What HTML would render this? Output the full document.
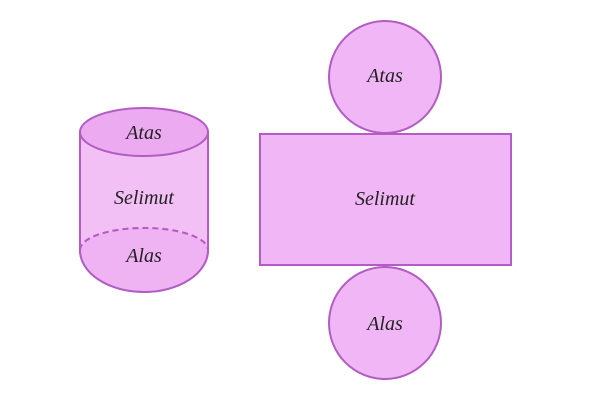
<!DOCTYPE html>
<html><head><style>body{margin:0;background:#fff}svg{display:block}</style></head><body>
<svg width="600" height="400" viewBox="0 0 600 400" xmlns="http://www.w3.org/2000/svg" font-family="Liberation Serif, serif" font-style="italic" font-size="20" fill="#222">
<g stroke="#b35cc4" stroke-width="2">
<path d="M80 132 L80 250 A64 42 0 0 0 208 250 L208 132 Z" fill="#f3c0f6"/>
<ellipse cx="144" cy="132" rx="64" ry="24" fill="#ecaaf0"/>
<path d="M80 250 A64 22 0 0 1 208 250" fill="none" stroke-dasharray="6 4"/>
<path d="M80 250 A64 22 0 0 1 208 250 A64 42 0 0 1 80 250Z" fill="#efb2f3" stroke="none"/>
<path d="M80 250 A64 22 0 0 1 208 250" fill="none" stroke-dasharray="6 4"/>
<path d="M80 250 A64 42 0 0 0 208 250" fill="none"/>
<rect x="260" y="134" width="251" height="131" fill="#f1b6f5"/>
<circle cx="385" cy="77" r="56" fill="#f1b6f5"/>
<circle cx="385" cy="323" r="56" fill="#f1b6f5"/>
</g>
<g text-anchor="middle" stroke="none">
<text x="144" y="139">Atas</text>
<text x="144" y="204">Selimut</text>
<text x="144" y="262">Alas</text>
<text x="385" y="82">Atas</text>
<text x="385" y="205">Selimut</text>
<text x="385" y="330">Alas</text>
</g>
</svg>
</body></html>
